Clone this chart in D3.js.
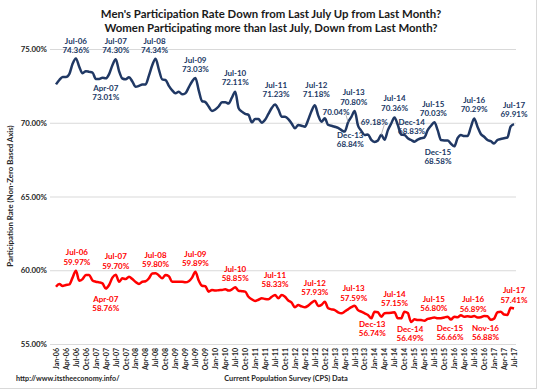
<!DOCTYPE html>
<html><head><meta charset="utf-8">
<script src="https://cdn.jsdelivr.net/npm/d3@7"></script>
<style>
html,body{margin:0;padding:0;background:#fff;}
svg text{font-family:Lato,"Open Sans",sans-serif;font-weight:bold;}
</style></head>
<body><svg id="c" width="538" height="391"></svg>
<script>
// ---------- data ----------
const titleLines = ["Men's Participation Rate Down from Last July Up from Last Month?",
                    "Women Participating more than last July, Down from Last Month?"];
const years = [2006,2007,2008,2009,2010,2011,2012,2013,2014,2015,2016,2017];
const monthNames = ["Jan","Feb","Mar","Apr","May","Jun","Jul","Aug","Sep","Oct","Nov","Dec"];
const months = [];
years.forEach(y => monthNames.forEach(m => { if (months.length < 139) months.push(m + "-" + String(y).slice(2)); }));
const tickMonths = months.filter((m, i) => i % 3 === 0);
const yTicks = [55, 60, 65, 70, 75];

const menRate = [
 72.60,72.90,73.10,73.10,73.30,74.00,74.36,73.80,73.35,73.50,73.45,73.40,
 72.97,72.97,73.05,73.01,73.30,73.90,74.30,73.50,73.00,72.95,73.08,72.80,
 72.44,72.50,72.60,72.60,73.20,73.90,74.34,73.60,72.94,72.90,72.50,72.20,
 72.00,72.10,71.93,72.00,72.40,72.80,73.03,72.20,71.47,71.40,71.10,70.80,
 70.90,71.10,71.39,71.39,71.30,71.70,72.11,71.00,70.75,70.60,70.53,70.03,
 70.25,70.25,70.00,70.20,70.60,71.00,71.23,70.90,70.41,70.40,70.25,69.95,
 69.62,69.85,69.80,69.73,70.20,70.80,71.18,70.50,70.07,70.30,69.85,69.80,
 69.73,69.65,69.50,69.40,70.04,70.40,70.80,69.80,69.45,69.17,69.20,68.84,
 68.70,68.80,69.18,68.85,69.50,69.95,70.36,69.85,69.20,69.17,68.95,68.83,
 68.72,68.85,68.95,69.00,69.50,69.80,70.03,69.50,68.83,68.80,68.80,68.58,
 68.40,68.95,69.17,69.10,69.10,69.70,70.29,69.73,69.24,69.05,68.83,68.75,
 68.60,68.83,68.90,68.95,69.00,69.75,69.91];

const womenRate = [
 58.88,59.07,58.93,59.00,59.04,59.50,59.97,59.29,59.40,59.68,59.68,59.30,
 59.22,59.18,59.11,58.76,59.00,59.50,59.70,59.22,59.45,59.40,59.56,59.40,
 59.20,59.07,59.22,59.25,59.45,59.78,59.80,59.65,59.45,59.68,59.60,59.22,
 59.22,59.22,59.22,59.18,59.25,59.50,59.89,59.30,58.95,58.92,58.55,58.66,
 58.62,58.65,58.66,58.71,58.62,58.70,58.85,58.61,58.58,58.55,58.20,58.03,
 57.92,58.00,58.10,58.05,58.03,58.20,58.33,58.10,58.32,58.20,57.95,57.80,
 57.49,57.64,57.55,57.49,57.60,57.80,57.93,57.58,57.65,57.87,57.42,57.35,
 57.30,57.15,57.08,57.20,57.35,57.50,57.59,57.30,57.19,57.08,56.97,56.74,
 57.19,57.15,56.85,57.08,57.10,57.12,57.15,56.74,56.74,57.19,57.10,56.49,
 56.67,56.63,56.62,56.58,56.70,56.75,56.80,56.74,56.75,56.80,56.85,56.66,
 56.85,56.82,56.95,56.85,56.88,56.85,56.89,56.80,56.82,56.90,56.88,56.65,
 56.72,57.15,57.18,57.00,56.97,57.45,57.41];

const menLabelMonths   = ["Jul-06","Jul-07","Apr-07","Jul-08","Jul-09","Jul-10","Jul-11","Jul-12","May-13","Jul-13","Dec-13","Mar-14","Jul-14","Dec-14","Jul-15","Dec-15","Jul-16","Jul-17"];
const womenLabelMonths = ["Jul-06","Jul-07","Apr-07","Jul-08","Jul-09","Jul-10","Jul-11","Jul-12","Jul-13","Dec-13","Jul-14","Dec-14","Jul-15","Dec-15","Jul-16","Nov-16","Jul-17"];

// ---------- placement / style (not data) ----------
const menPlace = {
 "Jul-06":[0,-17.5],"Jul-07":[0,-18],"Apr-07":[0,10],"Jul-08":[-1,-17.7],"Jul-09":[0,-18],
 "Jul-10":[0,-18.3],"Jul-11":[1,-19.5],"Jul-12":[1.5,-20],"May-13":[-12,-10,"single"],
 "Jul-13":[-1,-18.3],"Dec-13":[-21,-4.5],"Mar-14":[-7,-13,"single"],"Jul-14":[0,-19],
 "Dec-14":[0.5,-18.3],"Jul-15":[-1,-18.3],"Dec-15":[-13,8.6],"Jul-16":[0,-18.5],"Jul-17":[0,-19]
};
const womenPlace = {
 "Jul-06":[1,-18],"Jul-07":[0,-18],"Apr-07":[0,10.8],"Jul-08":[0,-18.2],"Jul-09":[0,-17.9],
 "Jul-10":[0,-17.9],"Jul-11":[0,-19.5],"Jul-12":[0,-17.8],"Jul-13":[-1,-17.2],"Dec-13":[1,5.5],
 "Jul-14":[0,-18.3],"Dec-14":[-1,7.2],"Jul-15":[-0.5,-18.2],"Dec-15":[-1,8.7],"Jul-16":[-1,-16.5],
 "Nov-16":[-2,12],"Jul-17":[0,-18]
};
const menColor = "#203864", womenColor = "#ff0000";

// ---------- chart ----------
const svg = d3.select("#c");
const x = d3.scalePoint().domain(months).range([56, 514]);
const y = d3.scaleLinear().domain([55, 75]).range([344, 49]);

// chart border (right & bottom visible)
svg.append("line").attr("x1",536.5).attr("x2",536.5).attr("y1",0).attr("y2",389).attr("stroke","#d9d9d9");
svg.append("line").attr("x1",0).attr("x2",537).attr("y1",388.5).attr("y2",388.5).attr("stroke","#d9d9d9");

// title
svg.append("g").selectAll("text").data(titleLines).join("text")
  .attr("x", 271).attr("y", (d,i) => 18 + i*14)
  .attr("text-anchor","middle").attr("font-size",11.4).attr("fill","#1a1a1a").text(d => d);

// gridlines + y labels
const yAxis = d3.axisLeft(y).tickValues(yTicks).tickSize(-(516-50)).tickFormat(d => d3.format(".2f")(d) + "%");
const gy = svg.append("g").attr("transform","translate(50,0)").call(yAxis);
gy.select(".domain").remove();
gy.selectAll(".tick line").attr("stroke","#d9d9d9").attr("stroke-width",1);
gy.selectAll(".tick text").attr("x",-3).attr("font-size",7.8).attr("fill","#262626")
  .style("font-family","Lato,sans-serif").style("font-weight","bold");

// x axis labels
const xAxis = d3.axisBottom(x).tickValues(tickMonths).tickSize(0);
const gx = svg.append("g").attr("transform","translate(0,344)").call(xAxis);
gx.select(".domain").remove();
gx.selectAll(".tick text")
  .attr("transform","rotate(-90)").attr("text-anchor","end")
  .attr("x",-4).attr("y",0).attr("dy","0.33em")
  .attr("font-size",7).attr("fill","#262626")
  .style("font-family","Lato,sans-serif").style("font-weight","bold");

// axis titles
svg.append("text").attr("transform","translate(13,196) rotate(-90)").attr("text-anchor","middle")
  .attr("font-size",7.8).attr("fill","#262626").text("Participation Rate (Non-Zero Based Axis)");
svg.append("text").attr("x",286).attr("y",380.5).attr("text-anchor","middle")
  .attr("font-size",7.4).attr("fill","#262626").text("Current Population Survey (CPS) Data");
svg.append("text").attr("x",16).attr("y",381).attr("text-anchor","start")
  .attr("font-size",7.2).attr("fill","#262626").text("http://www.itstheeconomy.info/");

// lines
const line = d3.line().x((d,i) => x(months[i])).y(d => y(d)).curve(d3.curveMonotoneX);
svg.append("path").datum(menRate).attr("d",line).attr("fill","none")
  .attr("stroke",menColor).attr("stroke-width",2.5).attr("stroke-linejoin","round");
svg.append("path").datum(womenRate).attr("d",line).attr("fill","none")
  .attr("stroke",womenColor).attr("stroke-width",2.5).attr("stroke-linejoin","round");

// labels
function drawLabels(labelMonths, values, place, color){
  const g = svg.append("g");
  labelMonths.forEach(m => {
    const i = months.indexOf(m);
    const px = x(m), py = y(values[i]);
    const p = place[m];
    const lx = px + p[0], ly = py + p[1];
    const val = d3.format(".2f")(values[i]) + "%";
    if (p[2] === "single") {
      g.append("line").attr("x1", lx + 10).attr("y1", ly + 3).attr("x2", px).attr("y2", py)
        .attr("stroke","#a6a6a6").attr("stroke-width",0.8);
      g.append("text").attr("x",lx).attr("y",ly).attr("dy","0.35em").attr("text-anchor","middle")
        .attr("font-size",8).attr("fill",color).text(val);
    } else {
      g.append("text").attr("x",lx).attr("y",ly).attr("dy","0.35em").attr("text-anchor","middle")
        .attr("font-size",8).attr("fill",color).text(m);
      g.append("text").attr("x",lx).attr("y",ly + 9.3).attr("dy","0.35em").attr("text-anchor","middle")
        .attr("font-size",8).attr("fill",color).text(val);
    }
  });
}
drawLabels(menLabelMonths, menRate, menPlace, menColor);
drawLabels(womenLabelMonths, womenRate, womenPlace, womenColor);
</script>
</body></html>
